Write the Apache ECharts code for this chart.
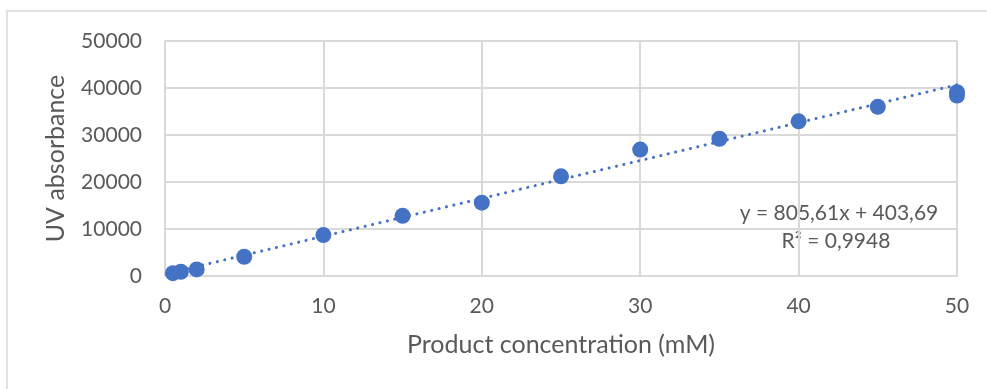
<!DOCTYPE html>
<html>
<head>
<meta charset="utf-8">
<script src="https://cdn.jsdelivr.net/npm/echarts@6/dist/echarts.min.js"></script>
<style>
  html, body { margin: 0; padding: 0; background: #fff; }
  #box { width: 987px; height: 389px; }
</style>
</head>
<body>
<div id="box"></div>
<script>
// measured points (concentration mM, UV absorbance)
var conc = [0.5, 1, 2, 5, 10, 15, 20, 25, 30, 35, 40, 45, 50, 50];
var absorb = [600, 900, 1400, 4100, 8700, 12800, 15600, 21200, 26900, 29200, 32900, 36000, 39100, 38400];

// linear trendline shown on the chart
var slope = 805.61;
var intercept = 403.69;
var trendX = [0.5, 50];
var trendLabel = ['y = 805,61x + 403,69', 'R² = 0,9948'];

var xTicks = [0, 10, 20, 30, 40, 50];
var yTicks = [0, 10000, 20000, 30000, 40000, 50000];

var font = 'Lato, "Open Sans", sans-serif';
var grey = '#595959';

var points = [];
for (var i = 0; i < conc.length; i++) {
  points.push([conc[i], absorb[i]]);
}
var trend = [];
for (var j = 0; j < trendX.length; j++) {
  trend.push([trendX[j], slope * trendX[j] + intercept]);
}

var myChart = echarts.init(document.getElementById('box'));
var option = {
  animation: false,
  textStyle: { fontFamily: font },
  grid: { left: 165, right: 30, top: 41, bottom: 113 },
  xAxis: {
    type: 'value',
    min: xTicks[0],
    max: xTicks[xTicks.length - 1],
    interval: xTicks[1] - xTicks[0],
    name: 'Product concentration (mM)',
    nameLocation: 'middle',
    nameGap: 56,
    nameTextStyle: { color: grey, fontSize: 25, fontFamily: font },
    axisLine: { lineStyle: { color: '#d9d9d9', width: 2 } },
    axisTick: { show: false },
    axisLabel: { color: grey, fontSize: 21, margin: 20, fontFamily: font },
    splitLine: { lineStyle: { color: '#d9d9d9', width: 2 } }
  },
  yAxis: {
    type: 'value',
    min: yTicks[0],
    max: yTicks[yTicks.length - 1],
    interval: yTicks[1] - yTicks[0],
    name: 'UV absorbance',
    nameLocation: 'middle',
    nameGap: 97,
    nameTextStyle: { color: grey, fontSize: 25, fontFamily: font },
    axisLine: { show: true, lineStyle: { color: '#d9d9d9', width: 2 } },
    axisTick: { show: false },
    axisLabel: {
      color: grey, fontSize: 21, margin: 23, fontFamily: font,
      formatter: function (v) { return String(v); }
    },
    splitLine: { lineStyle: { color: '#d9d9d9', width: 2 } }
  },
  graphic: [
    {
      type: 'rect',
      shape: { x: 7, y: 11, width: 1000, height: 420 },
      style: { fill: 'none', stroke: '#d9d9d9', lineWidth: 1.5 },
      silent: true,
      z: -1
    },
    {
      type: 'text',
      x: 839, y: 213,
      style: { text: trendLabel[0], fill: grey, font: '21px ' + font, align: 'center', verticalAlign: 'middle' }
    },
    {
      type: 'text',
      x: 836, y: 241,
      style: { text: trendLabel[1], fill: grey, font: '21px ' + font, align: 'center', verticalAlign: 'middle' }
    }
  ],
  series: [
    {
      name: 'trend',
      type: 'line',
      data: trend,
      showSymbol: false,
      silent: true,
      z: 1,
      lineStyle: { color: '#4472C4', width: 3, type: [0.1, 7.5], cap: 'round' }
    },
    {
      name: 'UV absorbance',
      type: 'scatter',
      data: points,
      symbolSize: 16,
      z: 2,
      itemStyle: { color: '#4472C4', opacity: 1 }
    }
  ]
};
myChart.setOption(option);
</script>
</body>
</html>
